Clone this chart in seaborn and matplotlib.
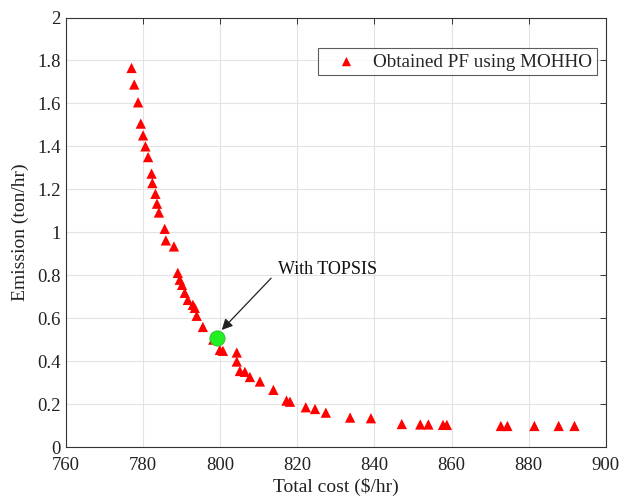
import matplotlib
matplotlib.use("Agg")
import matplotlib.pyplot as plt
import seaborn as sns
import pandas as pd

total_cost = [777.0, 777.7, 778.7, 779.4, 780.0, 780.6, 781.3, 782.2, 782.4, 783.2,
              783.6, 784.1, 785.6, 785.9, 788.0, 789.0, 789.5, 790.1, 790.8, 791.6,
              792.9, 793.4, 793.9, 795.5, 798.2, 799.9, 800.7, 804.3, 804.3, 805.1,
              806.4, 807.7, 810.3, 813.8, 817.2, 818.1, 822.2, 824.6, 827.4, 833.7,
              839.1, 847.1, 851.9, 854.0, 857.8, 858.8, 872.8, 874.5, 881.5, 887.8,
              891.9]
emission = [1.765, 1.688, 1.605, 1.506, 1.451, 1.40, 1.35, 1.273, 1.229, 1.179,
            1.133, 1.092, 1.016, 0.962, 0.934, 0.811, 0.779, 0.755, 0.718, 0.685,
            0.662, 0.648, 0.611, 0.559, 0.50, 0.452, 0.448, 0.44, 0.398, 0.354,
            0.35, 0.326, 0.305, 0.266, 0.216, 0.211, 0.185, 0.177, 0.16, 0.137,
            0.134, 0.107, 0.105, 0.105, 0.103, 0.103, 0.098, 0.098, 0.098, 0.098,
            0.098]
topsis_cost = [799.1]
topsis_emission = [0.506]

x_ticks = [760, 780, 800, 820, 840, 860, 880, 900]
y_ticks = [0, 0.2, 0.4, 0.6, 0.8, 1.0, 1.2, 1.4, 1.6, 1.8, 2.0]
y_tick_labels = ["0", "0.2", "0.4", "0.6", "0.8", "1", "1.2", "1.4", "1.6", "1.8", "2"]

sns.set_style("white")
plt.rcParams['font.family'] = ['Liberation Serif', 'DejaVu Serif']

df = pd.DataFrame({"cost": total_cost, "emission": emission})
dt = pd.DataFrame({"cost": topsis_cost, "emission": topsis_emission})

fig = plt.figure(figsize=(6.2, 5.03), dpi=100)
ax = fig.add_axes([66 / 620, 1 - 447 / 503, (605.7 - 66) / 620, (447 - 17.5) / 503])

sns.scatterplot(data=df, x="cost", y="emission", marker="^", color="#ff0000",
                s=55, edgecolor="none", label="Obtained PF using MOHHO", ax=ax, zorder=3)
sns.scatterplot(data=dt, x="cost", y="emission", marker="o", color="#22f022",
                s=120, edgecolor="#2fb82f", linewidth=0.6, legend=False, ax=ax, zorder=4)

ax.set_xlim(760, 900)
ax.set_ylim(0, 2)
ax.set_xticks(x_ticks)
ax.set_yticks(y_ticks)
ax.set_yticklabels(y_tick_labels)
ax.grid(True, color="#e3e3e3", linewidth=0.8)
ax.set_axisbelow(True)
for sp in ax.spines.values():
    sp.set_visible(True)
    sp.set_color("#333333")
    sp.set_linewidth(0.8)
ax.tick_params(direction="in", length=4, width=0.7, color="#333333",
               top=True, right=True, labelsize=13.5, labelcolor="#222222")
ax.tick_params(axis="x", pad=7)
ax.tick_params(axis="y", pad=4)
ax.set_xlabel("Total cost ($/hr)", fontsize=14, color="#222222", labelpad=3)
ax.set_ylabel("Emission (ton/hr)", fontsize=14, color="#222222", labelpad=6)

ax.text(815.0, 0.806, "With TOPSIS", fontsize=13, color="#111111",
        va="baseline", ha="left")
ax.annotate("", xy=(800.4, 0.545), xytext=(813.2, 0.786),
            arrowprops=dict(arrowstyle="-|>", color="#222222", lw=0.9,
                            mutation_scale=16, shrinkA=0, shrinkB=0))

leg = ax.legend(loc="upper right", bbox_to_anchor=(0.984, 0.928), borderaxespad=0,
                frameon=True, fancybox=False, fontsize=13.8, handletextpad=0.15,
                handlelength=2.5, borderpad=0.25, markerscale=0.9)
leg.get_frame().set_edgecolor("#333333")
leg.get_frame().set_linewidth(0.8)

fig.savefig("out.png", dpi=100)
